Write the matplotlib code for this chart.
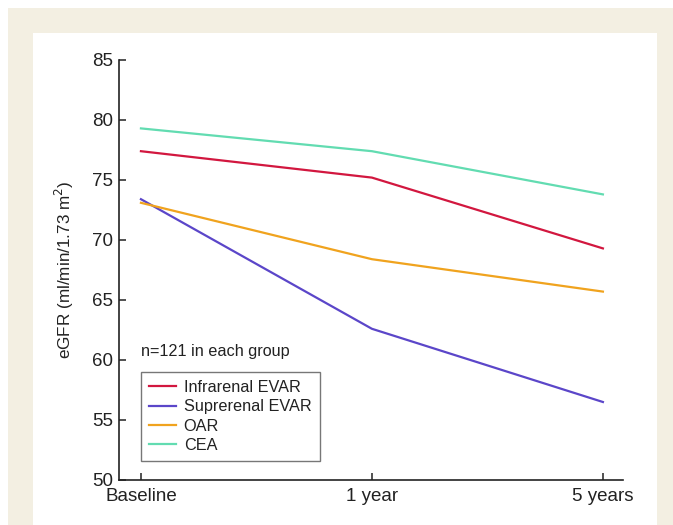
import matplotlib
matplotlib.use("Agg")
import matplotlib.pyplot as plt
from matplotlib.patches import Rectangle

# ---------------------------------------------------------------------------
# Data
# ---------------------------------------------------------------------------
timepoints = ["Baseline", "1 year", "5 years"]
infrarenal_evar = [77.4, 75.2, 69.3]
suprarenal_evar = [73.4, 62.6, 56.5]
oar = [73.1, 68.4, 65.7]
cea = [79.3, 77.4, 73.8]

series_names = ["Infrarenal EVAR", "Suprerenal EVAR", "OAR", "CEA"]
series_values = [infrarenal_evar, suprarenal_evar, oar, cea]
series_colors = ["#d2173f", "#5b46c9", "#f0a31e", "#62dcb1"]

yticks = [50, 55, 60, 65, 70, 75, 80, 85]

plt.rcParams["font.family"] = ["Liberation Sans", "DejaVu Sans"]

fig = plt.figure(figsize=(6.73, 5.25), dpi=100)
fig.patch.set_facecolor("white")

# beige frame and white inner panel
W, H = 673, 525
fig.patches.append(Rectangle((8 / W, 0), 1 - 8 / W, 1 - 8 / H,
                             transform=fig.transFigure, facecolor="#f3efe2",
                             edgecolor="none", zorder=-2))
fig.patches.append(Rectangle((33 / W, 0), (657 - 33) / W, 1 - 33 / H,
                             transform=fig.transFigure, facecolor="white",
                             edgecolor="none", zorder=-1))

ax = fig.add_axes([119 / W, 45 / H, 504 / W, 420 / H])
ax.set_facecolor("none")

x = list(range(len(timepoints)))
for name, vals, col in zip(series_names, series_values, series_colors):
    ax.plot(x, vals, color=col, linewidth=1.6, label=name)

ax.set_xlim(-0.095, 2.087)
ax.set_ylim(50, 85)
ax.set_xticks(x)
ax.set_xticklabels(timepoints)
ax.set_yticks(yticks)

for side in ["top", "right"]:
    ax.spines[side].set_visible(False)
for side in ["left", "bottom"]:
    ax.spines[side].set_color("#222222")
    ax.spines[side].set_linewidth(1.2)

ax.tick_params(direction="in", length=5, width=1.1, color="#222222",
               labelsize=13.5, labelcolor="#222222")
ax.tick_params(axis="y", pad=4)
ax.tick_params(axis="x", pad=6)

ax.set_ylabel("eGFR (ml/min/1.73 m$^2$)", fontsize=12.3, color="#222222",
              labelpad=12)

ax.text(0.044, 0.307, "n=121 in each group", transform=ax.transAxes,
        fontsize=11.7, color="#222222", va="center", ha="left")

leg = ax.legend(loc="lower left", bbox_to_anchor=(0.043, 0.045),
                fontsize=11.7, frameon=True, fancybox=False, shadow=False,
                handlelength=1.7, handletextpad=0.45, labelspacing=0.27,
                borderpad=0.5, borderaxespad=0)
leg.get_frame().set_edgecolor("#555555")
leg.get_frame().set_linewidth(1.0)
for t in leg.get_texts():
    t.set_color("#222222")

fig.savefig("out.png", dpi=100)
